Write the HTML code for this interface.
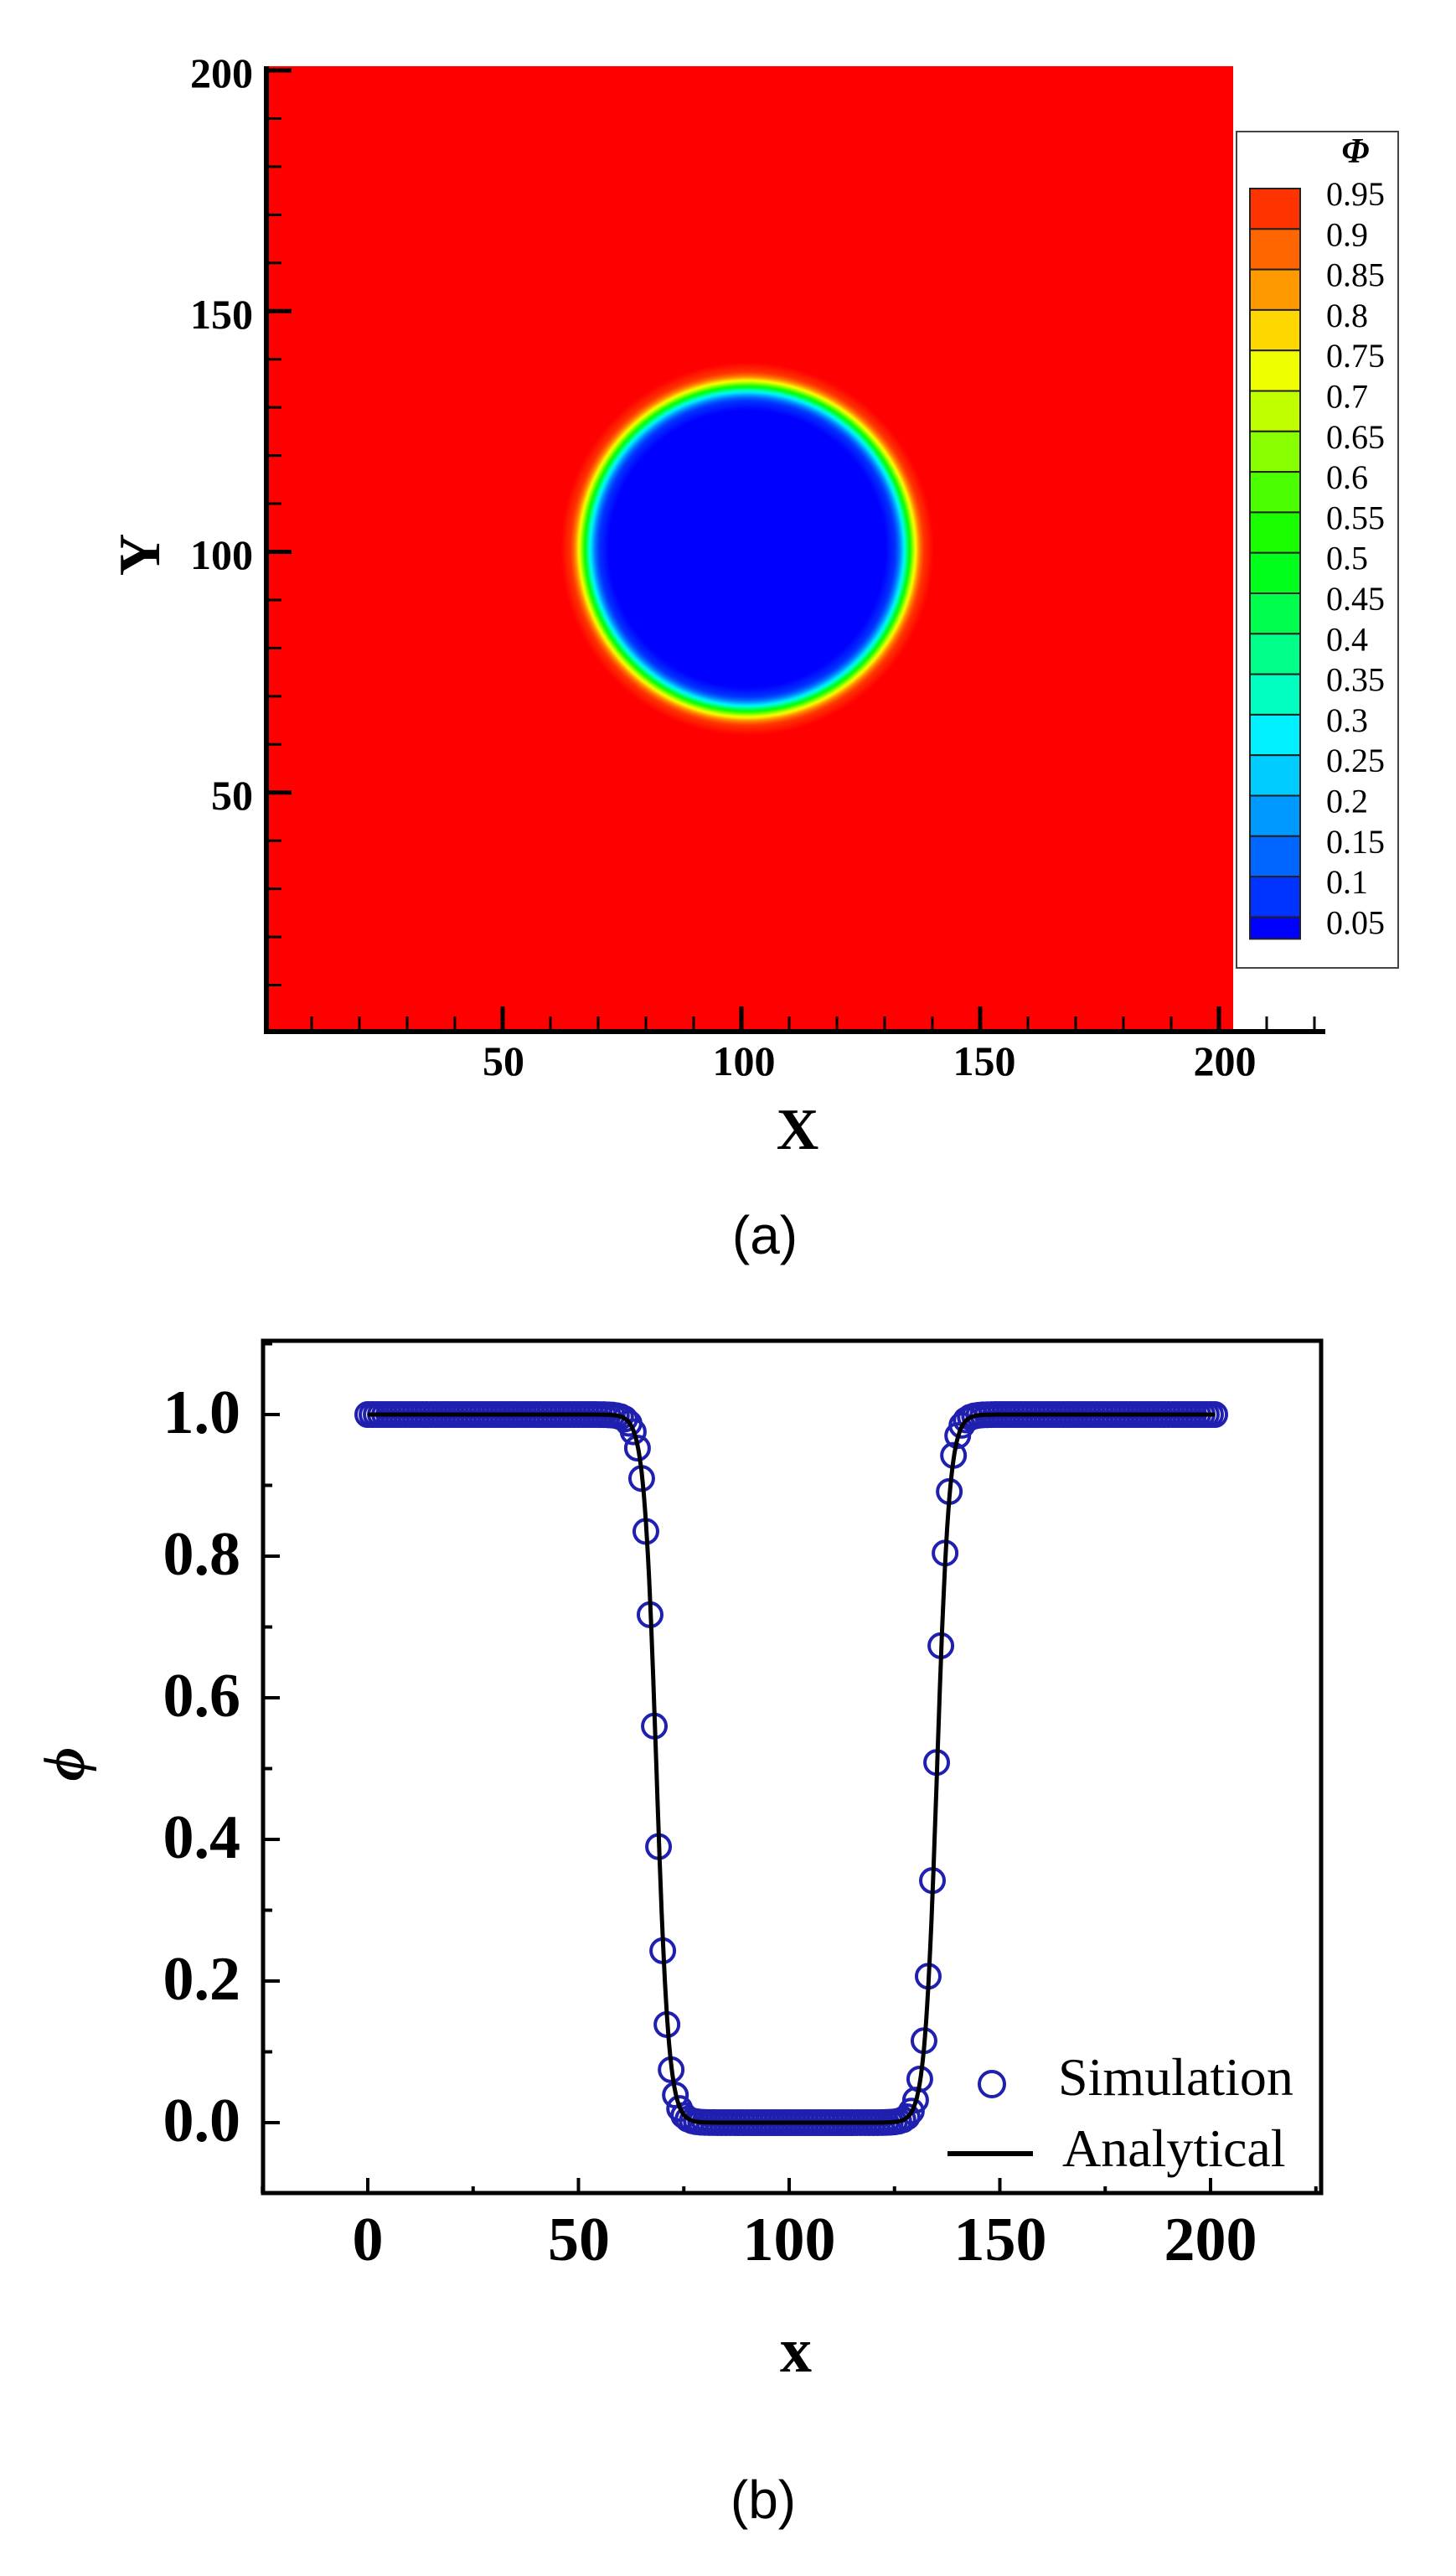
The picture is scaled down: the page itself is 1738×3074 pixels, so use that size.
<!DOCTYPE html>
<html><head><meta charset="utf-8"><style>
html,body{margin:0;padding:0;background:#fff;}
svg{display:block;}
</style></head><body>
<svg id="s" width="1738" height="3074" viewBox="0 0 1738 3074" xmlns="http://www.w3.org/2000/svg" font-family="'Liberation Serif', serif">
<defs><radialGradient id="rg" gradientUnits="userSpaceOnUse" cx="892" cy="655" r="260"></radialGradient></defs>
<rect x="318" y="79" width="1154" height="1152" fill="#ff0000"/>
<circle cx="892" cy="655" r="260" fill="url(#rg)"/>
<g id="ta" stroke="#000" fill="none"></g>
<line x1="318" y1="79" x2="318" y2="1234" stroke="#000" stroke-width="6"/>
<line x1="315" y1="1231" x2="1582" y2="1231" stroke="#000" stroke-width="6"/>
<g font-weight="bold" font-size="50" text-anchor="end" fill="#000">
<text x="302" y="104">200</text>
<text x="302" y="392">150</text>
<text x="302" y="679">100</text>
<text x="302" y="966">50</text>
</g>
<g font-weight="bold" font-size="50" text-anchor="middle" fill="#000">
<text x="601" y="1283">50</text>
<text x="888" y="1283">100</text>
<text x="1175" y="1283">150</text>
<text x="1462" y="1283">200</text>
</g>
<text x="952" y="1371" font-weight="bold" font-size="70" text-anchor="middle">X</text>
<text transform="translate(190,662) rotate(-90)" font-weight="bold" font-size="70" text-anchor="middle">Y</text>
<rect x="1476" y="157" width="193" height="998" fill="#fff" stroke="#444" stroke-width="2"/>
<g id="cb"></g>
<text x="1618" y="194" font-weight="bold" font-style="italic" font-size="42" text-anchor="middle">Φ</text>
<text x="913" y="1496" font-family="'Liberation Sans', sans-serif" font-size="64" text-anchor="middle">(a)</text>

<rect x="314" y="1600" width="1263" height="1017" fill="none" stroke="#000" stroke-width="5"/>
<g id="tb" stroke="#000" stroke-width="4"></g>
<g font-weight="bold" font-size="74" text-anchor="end">
<text x="287" y="1710">1.0</text>
<text x="287" y="1879">0.8</text>
<text x="287" y="2048">0.6</text>
<text x="287" y="2217">0.4</text>
<text x="287" y="2386">0.2</text>
<text x="287" y="2555">0.0</text>
</g>
<g font-weight="bold" font-size="74" text-anchor="middle">
<text x="439" y="2697">0</text>
<text x="691" y="2697">50</text>
<text x="942" y="2697">100</text>
<text x="1194" y="2697">150</text>
<text x="1445" y="2697">200</text>
</g>
<text x="950" y="2830" font-weight="bold" font-size="76" text-anchor="middle">x</text>
<text transform="translate(100,2105) rotate(-90)" font-weight="bold" font-style="italic" font-size="70" text-anchor="middle">ϕ</text>
<g id="mk" fill="none" stroke="#1f1fb0" stroke-width="4"></g>
<path id="cv" fill="none" stroke="#000" stroke-width="5"/>
<circle cx="1184" cy="2487" r="15" fill="none" stroke="#1f1fb0" stroke-width="4"/>
<line x1="1131" y1="2570" x2="1233" y2="2570" stroke="#000" stroke-width="6"/>
<text x="1263" y="2500" font-size="64">Simulation</text>
<text x="1268" y="2585" font-size="64">Analytical</text>
<text x="911" y="3005" font-family="'Liberation Sans', sans-serif" font-size="64" text-anchor="middle">(b)</text>
</svg>
<script>
var NS="http://www.w3.org/2000/svg";
function el(p,t,a){var e=document.createElementNS(NS,t);for(var k in a)e.setAttribute(k,a[k]);p.appendChild(e);return e;}
var cols=["#ff0000","#ff3300","#ff6600","#ff9900","#ffd700","#f0ff00","#c0ff00","#88ff00","#4cff00","#1aff00","#00ff1a","#00ff4c","#00ff88","#00ffc0","#00f0ff","#00ccff","#0099ff","#0066ff","#0033ff","#0000ff"];
var cb=document.getElementById("cb");
var top=199,iv=48.3,b0=225;
var edges=[top];for(var k=0;k<19;k++)edges.push(b0+iv*k);edges.push(b0+iv*18+26);
for(var i=0;i<20;i++){el(cb,"rect",{x:1492,y:edges[i],width:60,height:edges[i+1]-edges[i],fill:cols[i],stroke:"#222","stroke-width":2});}
var labs=["0.95","0.9","0.85","0.8","0.75","0.7","0.65","0.6","0.55","0.5","0.45","0.4","0.35","0.3","0.25","0.2","0.15","0.1","0.05"];
for(var k=0;k<19;k++){var t=el(cb,"text",{x:1583,y:b0+iv*k+20,"font-size":40});t.textContent=labs[k];}
var rg=document.getElementById("rg");var ppu=5.72,R=33.9,w=2.4,Rmax=260;
function atanh(x){return 0.5*Math.log((1+x)/(1-x));}
var stops=[];
for(var i=19;i>=0;i--){var pm;if(i==0)pm=0.985;else if(i==19)pm=0.015;else pm=0.975-0.05*i;
 var r=(R+w*atanh(2*pm-1))*ppu;stops.push([r/Rmax,cols[i]]);}
el(rg,"stop",{offset:0,"stop-color":"#0000ff"});
stops.forEach(function(s){el(rg,"stop",{offset:Math.min(1,s[0]),"stop-color":s[1]});});
el(rg,"stop",{offset:1,"stop-color":"#ff0000"});
var ta=document.getElementById("ta");
function ya(v){return 1233-5.745*v;}function xa(v){return 315+5.7*v;}
for(var v=10;v<=200;v+=10){var maj=v%50==0;el(ta,"line",{x1:318,y1:ya(v),x2:318+(maj?30:18),y2:ya(v),"stroke-width":maj?5:3});}
for(var v=10;v<=220;v+=10){var maj=v%50==0;el(ta,"line",{x1:xa(v),y1:1231,x2:xa(v),y2:1231-(maj?30:18),"stroke-width":maj?5:3});}
var tb=document.getElementById("tb");
function xb(v){return 439+5.03*v;}function yb(p){return 2533-845*p;}
for(var p=-0.1;p<=1.1001;p+=0.1){var q=Math.round(p*10);var maj=q%2==0;el(tb,"line",{x1:314,y1:yb(q/10),x2:314+(maj?20:11),y2:yb(q/10)});}
for(var v=-25;v<=225;v+=25){var maj=v%50==0;el(tb,"line",{x1:xb(v),y1:2617,x2:xb(v),y2:2617-(maj?18:8)});}
function phi(x){var r=Math.abs(x-101.8);return 0.5+0.5*Math.tanh((r-33.3)/2.9);}
var d="";for(var x=0;x<=201;x+=0.25){d+=(x==0?"M":"L")+xb(x).toFixed(1)+","+yb(phi(x)).toFixed(1);}
document.getElementById("cv").setAttribute("d",d);
var mk=document.getElementById("mk");
for(var x=0;x<=201;x++){el(mk,"circle",{cx:xb(x),cy:yb(phi(x+0.15)),r:14});}
</script>
</body></html>
